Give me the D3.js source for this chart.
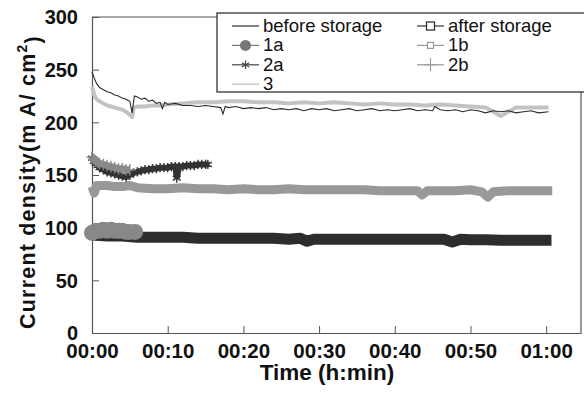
<!DOCTYPE html>
<html lang="en">
  <head>
    <meta charset="UTF-8" />
    <title>Current density vs time</title>
    <script src="https://cdn.jsdelivr.net/npm/d3@7"></script>
    <style>
      body { margin: 0; background: #fff; }
      svg { display: block; font-family: Arial, "Liberation Sans", sans-serif; }
    </style>
  </head>
  <body>
    <div id="chart"></div>
    <script>
      // time in minutes, current density in mA/cm2
      let beforeTime = [0, 0.3, 0.6, 1, 1.5, 2, 2.5, 3, 3.5, 4, 4.5, 5, 5.3, 5.6, 6, 6.5, 7, 7.5, 8, 8.5, 9, 9.3, 9.6, 10, 11, 12, 13, 14, 15, 16, 17, 17.3, 17.6, 18, 19, 20, 21, 22, 23, 24, 25, 26, 27, 28, 29, 30, 31, 32, 33, 34, 35, 36, 37, 38, 39, 40, 41, 42, 43, 44, 45, 45.3, 46, 47, 48, 49, 50, 51, 52, 53, 54, 55, 56, 57, 58, 59, 60.3];
      let beforeValue = [248, 242, 237, 233, 231, 229, 228, 226, 225, 223, 222, 220, 209, 225, 224, 222, 223, 220, 221, 218, 219, 213, 219, 217, 218, 216, 216, 215, 216, 215, 214, 208, 215, 214, 215, 213, 214, 213, 214, 212, 213, 212, 213, 211, 213, 212, 213, 211, 212, 213, 211, 212, 213, 211, 212, 211, 212, 213, 211, 212, 211, 215, 212, 211, 212, 210, 212, 211, 209, 211, 210, 211, 209, 210, 211, 209, 210];

      let afterTime = [0, 2, 4, 6, 8, 10, 12, 14, 16, 18, 20, 22, 24, 26, 27.5, 28.4, 29.3, 31, 33, 35, 37, 39, 41, 43, 45, 46.5, 47.6, 48.7, 50, 52, 54, 56, 58, 60.7];
      let afterValue = [93, 92, 92, 91, 91, 91, 91, 90, 90, 90, 90, 90, 90, 89, 90, 87, 89, 89, 89, 89, 89, 89, 89, 89, 89, 89, 86.5, 89, 88.5, 88.5, 88, 88, 88, 88];

      let s1aTime = [0, 0.5, 1, 1.5, 2, 2.5, 3, 3.5, 4, 4.5, 5, 5.7];
      let s1aValue = [95, 97, 97, 98, 97, 98, 97, 97, 97, 96, 96, 96];

      let s1bTime = [0, 0.3, 0.6, 1, 2, 3, 4, 5, 6, 8, 10, 12, 14, 16, 18, 20, 22, 24, 26, 28, 30, 32, 34, 36, 38, 40, 42, 43, 43.6, 44.3, 46, 48, 50, 51.5, 52.3, 53, 55, 57, 59, 60.8];
      let s1bValue = [139, 133, 140, 140, 140, 139, 139, 140, 138, 137, 137, 138, 137, 137, 136, 137, 136, 136, 137, 136, 136, 136, 136, 136, 135, 135, 135, 135, 131, 135, 135, 135, 136, 134, 129, 134, 135, 135, 135, 135];

      let s2aTime = [0, 0.25, 0.5, 0.75, 1, 1.5, 2, 2.5, 3, 3.5, 4, 4.5, 5, 5.5, 6, 6.5, 7, 7.5, 8, 8.5, 9, 9.5, 10, 10.5, 11, 11.2, 11.5, 12, 12.5, 13, 13.5, 14, 14.5, 15, 15.3];
      let s2aValue = [166, 163, 161, 159, 157, 155, 153, 152, 151, 150, 149, 148, 150, 152, 153, 154, 155, 155, 156, 156, 157, 157, 157, 158, 158, 147, 158, 158, 159, 159, 159, 160, 160, 160, 160];

      let s2bTime = [0, 0.25, 0.5, 0.75, 1, 1.5, 2, 2.5, 3, 3.5, 4, 4.5, 5];
      let s2bValue = [167, 165, 163, 162, 161, 160, 159, 158, 157, 156, 156, 155, 155];

      let s3Time = [0, 0.3, 0.6, 1, 1.5, 2, 2.5, 3, 3.5, 4, 4.5, 5, 5.3, 5.5, 6, 7, 8, 9, 10, 12, 14, 16, 18, 20, 22, 24, 26, 28, 30, 32, 34, 36, 38, 40, 42, 44, 46, 48, 50, 52, 53, 54, 55, 56, 58, 60.3];
      let s3Value = [234, 226, 222, 220, 218, 216, 215, 214, 213, 212, 210, 207, 205, 214, 215, 215, 216, 216, 217, 218, 219, 219, 220, 220, 219, 219, 218, 219, 218, 219, 218, 217, 218, 217, 217, 216, 217, 216, 215, 214, 210, 206, 210, 214, 214, 214];

      let yTicks = [0, 50, 100, 150, 200, 250, 300];
      let xTicks = [0, 10, 20, 30, 40, 50, 60];
      let xTickLabels = ["00:00", "00:10", "00:20", "00:30", "00:40", "00:50", "01:00"];

      let legendNames = ["before storage", "after storage", "1a", "1b", "2a", "2b", "3"];

      let totalWidth = 584;
      let totalHeight = 394;
      let margin = { top: 17, right: 3, bottom: 61, left: 92 };
      let width = totalWidth - margin.left - margin.right;
      let height = totalHeight - margin.top - margin.bottom;

      let svg = d3
        .select("#chart")
        .append("svg")
        .attr("width", totalWidth)
        .attr("height", totalHeight);

      let g = svg
        .append("g")
        .attr("transform", `translate(${margin.left},${margin.top})`);

      let x = d3.scaleLinear().domain([0, 64.6]).range([0, width]);
      let y = d3.scaleLinear().domain([0, 300]).range([height, 0]);

      function pairs(ts, vs) {
        return ts.map(function (t, i) {
          return [t, vs[i]];
        });
      }

      let line = d3
        .line()
        .x(function (d) { return x(d[0]); })
        .y(function (d) { return y(d[1]); });

      // frame
      g.append("path")
        .attr("d", `M0,0H${width}V${height}`)
        .attr("fill", "none")
        .attr("stroke", "#555")
        .attr("stroke-width", 1.2);

      // axes
      let yAxis = g
        .append("g")
        .call(d3.axisLeft(y).tickValues(yTicks).tickSizeInner(-7).tickSizeOuter(0).tickPadding(14));
      let xAxis = g
        .append("g")
        .attr("transform", `translate(0,${height})`)
        .call(
          d3.axisBottom(x)
            .tickValues(xTicks)
            .tickSizeInner(-7)
            .tickSizeOuter(0)
            .tickPadding(10)
            .tickFormat(function (d, i) { return xTickLabels[i]; })
        );

      yAxis.select(".domain").attr("stroke", "#555").attr("stroke-width", 1.2);
      xAxis.select(".domain").attr("stroke", "#555").attr("stroke-width", 1.2);
      yAxis.selectAll(".tick line").attr("stroke", "#555");
      xAxis.selectAll(".tick line").attr("stroke", "#555");
      yAxis
        .selectAll(".tick text")
        .attr("font-size", "20px")
        .attr("font-weight", "bold")
        .attr("fill", "#111")
        .attr("font-family", "Arial, 'Liberation Sans', sans-serif")
        .attr("dy", "0.34em");
      xAxis
        .selectAll(".tick text")
        .attr("font-size", "20.5px")
        .attr("font-weight", "bold")
        .attr("fill", "#111")
        .attr("font-family", "Arial, 'Liberation Sans', sans-serif");

      // axis titles
      svg
        .append("text")
        .attr("x", 327)
        .attr("y", 380)
        .attr("text-anchor", "middle")
        .attr("font-size", "22.5px")
        .attr("font-weight", "bold")
        .attr("fill", "#111")
        .text("Time (h:min)");

      let yTitle = svg
        .append("text")
        .attr("transform", "translate(35,182) rotate(-90)")
        .attr("text-anchor", "middle")
        .attr("font-size", "21.5px")
        .attr("font-weight", "bold")
        .attr("letter-spacing", "1.2px")
        .attr("fill", "#111");
      yTitle.append("tspan").text("Current density(m A/ cm");
      yTitle.append("tspan").attr("dy", "-0.6em").attr("font-size", "14px").text("2");
      yTitle.append("tspan").attr("dy", "0.6em").text(")");

      let plot = g.append("g");

      // series 3 (light gray line)
      plot.append("path")
        .datum(pairs(s3Time, s3Value))
        .attr("d", line)
        .attr("fill", "none")
        .attr("stroke", "#c3c3c3")
        .attr("stroke-width", 4)
        .attr("stroke-linejoin", "round");

      // before storage (thin dark line)
      plot.append("path")
        .datum(pairs(beforeTime, beforeValue))
        .attr("d", line)
        .attr("fill", "none")
        .attr("stroke", "#2a2a2a")
        .attr("stroke-width", 1.1);

      // 1b band
      plot.append("path")
        .datum(pairs(s1bTime, s1bValue))
        .attr("d", line)
        .attr("fill", "none")
        .attr("stroke", "#999")
        .attr("stroke-width", 9)
        .attr("stroke-linejoin", "round");

      // after storage band
      plot.append("path")
        .datum(pairs(afterTime, afterValue))
        .attr("d", line)
        .attr("fill", "none")
        .attr("stroke", "#2d2d2d")
        .attr("stroke-width", 11)
        .attr("stroke-linejoin", "round");

      // 1a circles
      let s1a = pairs(s1aTime, s1aValue);
      plot.append("path")
        .datum(s1a)
        .attr("d", line)
        .attr("fill", "none")
        .attr("stroke", "#888")
        .attr("stroke-width", 13)
        .attr("stroke-linecap", "round");
      plot.selectAll(".c1a")
        .data(s1a)
        .enter()
        .append("circle")
        .attr("class", "c1a")
        .attr("cx", function (d) { return x(d[0]); })
        .attr("cy", function (d) { return y(d[1]); })
        .attr("r", 8)
        .attr("fill", "#888");

      // 2a stars
      let s2a = pairs(s2aTime, s2aValue);
      plot.append("path")
        .datum(s2a)
        .attr("d", line)
        .attr("fill", "none")
        .attr("stroke", "#333")
        .attr("stroke-width", 6);
      plot.selectAll(".s2a")
        .data(s2a)
        .enter()
        .append("path")
        .attr("class", "s2a")
        .attr("transform", function (d) { return `translate(${x(d[0])},${y(d[1])})`; })
        .attr("d", d3.symbol(d3.symbolAsterisk, 60))
        .attr("fill", "none")
        .attr("stroke", "#333")
        .attr("stroke-width", 1.4);

      // 2b pluses
      let s2b = pairs(s2bTime, s2bValue);
      plot.append("path")
        .datum(s2b)
        .attr("d", line)
        .attr("fill", "none")
        .attr("stroke", "#8a8a8a")
        .attr("stroke-width", 7);
      plot.selectAll(".s2b")
        .data(s2b)
        .enter()
        .append("path")
        .attr("class", "s2b")
        .attr("transform", function (d) { return `translate(${x(d[0])},${y(d[1])})`; })
        .attr("d", d3.symbol(d3.symbolPlus, 45))
        .attr("fill", "none")
        .attr("stroke", "#8a8a8a")
        .attr("stroke-width", 1.4);

      // legend
      let legend = svg.append("g");
      legend
        .append("rect")
        .attr("x", 217)
        .attr("y", 13)
        .attr("width", 380)
        .attr("height", 79)
        .attr("fill", "#fff")
        .attr("stroke", "#333")
        .attr("stroke-width", 1.3);

      let legendStyle = {
        "before storage": { color: "#333", marker: null },
        "after storage": { color: "#333", marker: "square" },
        "1a": { color: "#777", marker: "circle" },
        "1b": { color: "#999", marker: "smallsquare" },
        "2a": { color: "#444", marker: "asterisk" },
        "2b": { color: "#999", marker: "plus" },
        "3": { color: "#bbb", marker: null },
      };

      let items = legend
        .selectAll(".item")
        .data(legendNames)
        .enter()
        .append("g")
        .attr("class", "item")
        .attr("transform", function (d, i) {
          let col = i === legendNames.length - 1 ? 0 : i % 2;
          let row = Math.floor(i / 2);
          return `translate(${col === 0 ? 232 : 417},${32 + row * 19.4})`;
        });

      items
        .append("line")
        .attr("x1", 0)
        .attr("x2", 27)
        .attr("y1", -6)
        .attr("y2", -6)
        .attr("stroke", function (d) { return legendStyle[d].color; })
        .attr("stroke-width", 1.2);

      items.each(function (d) {
        let s = legendStyle[d];
        let el = d3.select(this);
        if (s.marker === "square") {
          el.append("rect").attr("x", 9.5).attr("y", -10).attr("width", 8).attr("height", 8)
            .attr("fill", "#fff").attr("stroke", s.color).attr("stroke-width", 1.3);
        } else if (s.marker === "smallsquare") {
          el.append("rect").attr("x", 10.5).attr("y", -9).attr("width", 6).attr("height", 6)
            .attr("fill", "#fff").attr("stroke", s.color).attr("stroke-width", 1.2);
        } else if (s.marker === "circle") {
          el.append("circle").attr("cx", 13.5).attr("cy", -6).attr("r", 5.5).attr("fill", s.color);
        } else if (s.marker === "asterisk") {
          el.append("path").attr("transform", "translate(13.5,-6)")
            .attr("d", d3.symbol(d3.symbolAsterisk, 50))
            .attr("fill", "none").attr("stroke", s.color).attr("stroke-width", 1.2);
        } else if (s.marker === "plus") {
          el.append("path").attr("transform", "translate(13.5,-6)")
            .attr("d", d3.symbol(d3.symbolPlus, 60))
            .attr("fill", "none").attr("stroke", s.color).attr("stroke-width", 1.1);
        }
      });

      items
        .append("text")
        .attr("x", 31)
        .attr("y", 0)
        .attr("font-size", "18.5px")
        .attr("fill", "#111")
        .text(function (d) { return d; });
    </script>
  </body>
</html>
